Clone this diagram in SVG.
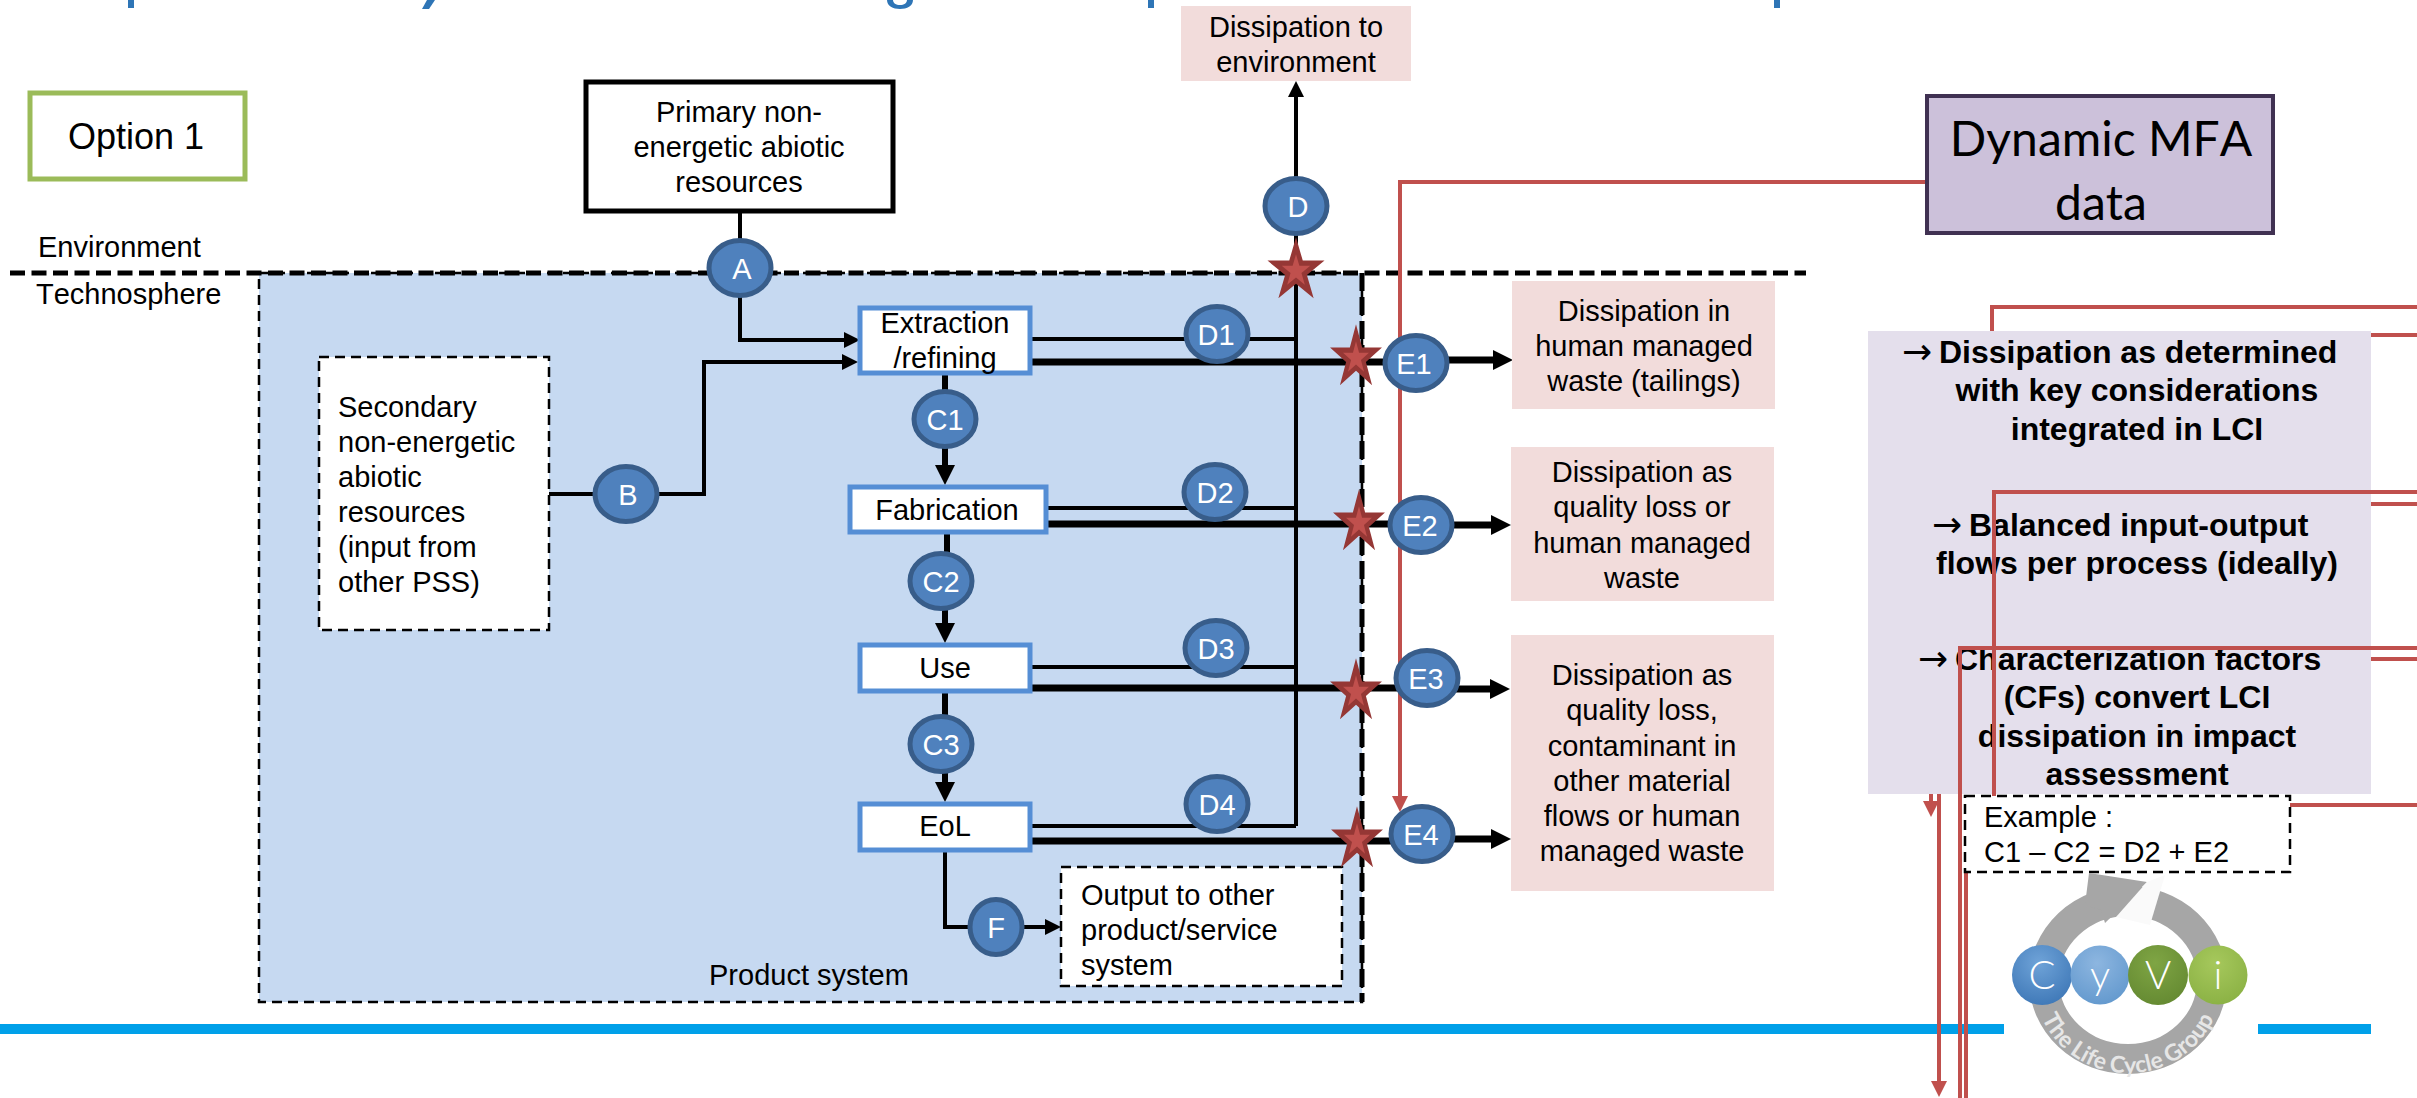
<svg xmlns="http://www.w3.org/2000/svg" width="2417" height="1098" viewBox="0 0 2417 1098">
<defs>
<style>
text{font-family:"Liberation Sans",Arial,sans-serif;font-size:29px;fill:#000;font-kerning:none}
.m{text-anchor:middle}
.n{fill:#4F81BD;stroke:#385D8A;stroke-width:5}
.nt{fill:#fff;text-anchor:middle}
.dash{fill:#fff;stroke:#000;stroke-width:2.5;stroke-dasharray:10 6}
.proc{fill:#fff;stroke:#558ED5;stroke-width:5}
.pink{fill:#F2DCDB}
.thin{fill:none;stroke:#000;stroke-width:4}
.thick{fill:none;stroke:#000;stroke-width:7}
.mid{fill:none;stroke:#000;stroke-width:6}
.red{fill:none;stroke:#C0504D;stroke-width:4}
.b{font-weight:bold;font-size:32px}
.arr{font-family:"DejaVu Sans",sans-serif;font-size:36px}
.lg{font-family:Lato,sans-serif;font-weight:300;font-size:40px;fill:#fff;text-anchor:middle}
.mfa{font-family:Lato,sans-serif;font-size:48px;text-anchor:middle}
</style>
<marker id="ah" markerUnits="userSpaceOnUse" markerWidth="16" markerHeight="16" refX="8" refY="8" orient="auto"><path d="M0 0L16 8L0 16Z" fill="#000"/></marker>
<marker id="aL" markerUnits="userSpaceOnUse" markerWidth="20" markerHeight="20" refX="10" refY="10" orient="auto"><path d="M0 0L20 10L0 20Z" fill="#000"/></marker>
<marker id="ar" markerUnits="userSpaceOnUse" markerWidth="16" markerHeight="16" refX="8" refY="8" orient="auto"><path d="M0 0L16 8L0 16Z" fill="#C0504D"/></marker>
<g id="star">
<polygon points="0,-1 .225,-.309 .951,-.309 .363,.118 .588,.809 0,.382 -.588,.809 -.363,.118 -.951,-.309 -.225,-.309" fill="#953735"/>
<polygon points="0,-.5 .112,-.155 .476,-.155 .182,.059 .294,.405 0,.191 -.294,.405 -.182,.059 -.476,-.155 -.112,-.155" fill="#C0504D"/>
</g>
<radialGradient id="gc" cx=".45" cy=".3" r=".8"><stop offset="0" stop-color="#6FA3D8"/><stop offset="1" stop-color="#3A74B4"/></radialGradient>
<radialGradient id="gy" cx=".45" cy=".3" r=".8"><stop offset="0" stop-color="#8DB6E0"/><stop offset="1" stop-color="#5F96CC"/></radialGradient>
<radialGradient id="gv" cx=".45" cy=".3" r=".8"><stop offset="0" stop-color="#7FA544"/><stop offset="1" stop-color="#628730"/></radialGradient>
<radialGradient id="gi" cx=".45" cy=".3" r=".8"><stop offset="0" stop-color="#A6C85C"/><stop offset="1" stop-color="#88AF42"/></radialGradient>
<path id="arc" d="M2036 1000A94 92 0 0 0 2220 1000"/>
</defs>
<rect width="2417" height="1098" fill="#fff"/>

<g id="title-fragments" fill="#2E75B6">
<rect x="128" y="0" width="6" height="8"/>
<path d="M427 0h8l-6 9h-7z"/>
<path d="M887 0c0 6 6 9 13 9s13-3 13-9h-6c0 3-3 5-7 5s-7-2-7-5z"/>
<rect x="1148" y="0" width="6" height="8"/>
<rect x="1774" y="0" width="6" height="8"/>
</g>

<rect id="footer-bar-left" x="0" y="1024" width="2004" height="10" fill="#00A0E9"/>
<rect id="footer-bar-right" x="2258" y="1024" width="113" height="10" fill="#00A0E9"/>

<g id="product-system">
<rect x="259" y="273" width="1103" height="729" fill="#C6D9F1" stroke="#000" stroke-width="2.5" stroke-dasharray="10 6"/>
<text x="709" y="985">Product system</text>
</g>
<path id="product-right-edge" d="M1362 273V1002" fill="none" stroke="#000" stroke-width="5" stroke-dasharray="18 6"/>
<path id="boundary" d="M10 273H1806" fill="none" stroke="#000" stroke-width="5" stroke-dasharray="15 6.5"/>
<g id="boundary-labels">
<text x="38" y="257">Environment</text>
<text x="36" y="304">Technosphere</text>
</g>

<g id="red-connectors-back">
<path class="red" d="M1926 182H1400V804" marker-end="url(#ar)"/>
<path class="red" d="M2417 307H1992V340"/>
<path class="red" d="M2417 335H2360"/>
<path class="red" d="M2417 504H2360"/>
<path class="red" d="M2417 659H2360"/>
<path class="red" d="M1931 780V809" marker-end="url(#ar)"/>
<path class="red" d="M1939 780V1089" marker-end="url(#ar)"/>
</g>

<g id="connectors">
<path class="thin" d="M740 213V340H852" marker-end="url(#ah)"/>
<path class="thin" d="M549 494H704V362H850" marker-end="url(#ah)"/>
<path class="mid" d="M945 374V475" marker-end="url(#aL)"/>
<path class="mid" d="M947 533V581"/>
<path class="mid" d="M945 581V633" marker-end="url(#aL)"/>
<path class="mid" d="M945 692V792" marker-end="url(#aL)"/>
<path class="thin" d="M945 851V927H1053" marker-end="url(#ah)"/>
<path class="thin" d="M1296 826V89" marker-end="url(#ah)"/>
<path class="thin" d="M1030 339H1296M1046 508H1296M1030 667H1296M1030 826H1296"/>
<path class="thick" d="M1030 362H1416"/>
<path class="thick" d="M1046 524H1421"/>
<path class="thick" d="M1030 688H1427"/>
<path class="thick" d="M1030 841H1422"/>
<path class="thick" d="M1416 360H1503" marker-end="url(#aL)"/>
<path class="thick" d="M1421 525H1501" marker-end="url(#aL)"/>
<path class="thick" d="M1427 689H1500" marker-end="url(#aL)"/>
<path class="thick" d="M1422 839H1501" marker-end="url(#aL)"/>
</g>

<g id="option-1"><rect x="30" y="93" width="215" height="86" fill="#fff" stroke="#9BBB59" stroke-width="5"/><text class="m" x="136" y="149" style="font-size:36px">Option 1</text></g>
<g id="primary"><rect x="586" y="82" width="307" height="129" fill="#fff" stroke="#000" stroke-width="5"/>
<text class="m" x="739" y="122">Primary non-</text><text class="m" x="739" y="157">energetic abiotic</text><text class="m" x="739" y="192">resources</text></g>
<g id="secondary"><rect class="dash" x="319" y="357" width="230" height="273"/>
<text x="338" y="417">Secondary</text><text x="338" y="452">non-energetic</text><text x="338" y="487">abiotic</text><text x="338" y="522">resources</text><text x="338" y="557">(input from</text><text x="338" y="592">other PSS)</text></g>
<g id="extraction"><rect class="proc" x="860" y="308" width="170" height="65"/><text class="m" x="945" y="333">Extraction</text><text class="m" x="945" y="368">/refining</text></g>
<g id="fabrication"><rect class="proc" x="850" y="487" width="196" height="45"/><text class="m" x="947" y="520">Fabrication</text></g>
<g id="use"><rect class="proc" x="860" y="645" width="170" height="46"/><text class="m" x="945" y="678">Use</text></g>
<g id="eol"><rect class="proc" x="860" y="804" width="170" height="46"/><text class="m" x="945" y="836">EoL</text></g>
<g id="output"><rect class="dash" x="1061" y="867" width="281" height="119"/>
<text x="1081" y="905">Output to other</text><text x="1081" y="940">product/service</text><text x="1081" y="975">system</text></g>
<g id="diss-env"><rect class="pink" x="1181" y="6" width="230" height="75"/><text class="m" x="1296" y="37">Dissipation to</text><text class="m" x="1296" y="72">environment</text></g>
<g id="diss-e1"><rect class="pink" x="1512" y="281" width="263" height="128"/><text class="m" x="1644" y="321">Dissipation in</text><text class="m" x="1644" y="356">human managed</text><text class="m" x="1644" y="391">waste (tailings)</text></g>
<g id="diss-e2"><rect class="pink" x="1511" y="447" width="263" height="154"/><text class="m" x="1642" y="482">Dissipation as</text><text class="m" x="1642" y="517">quality loss or</text><text class="m" x="1642" y="553">human managed</text><text class="m" x="1642" y="588">waste</text></g>
<g id="diss-e3"><rect class="pink" x="1511" y="635" width="263" height="256"/><text class="m" x="1642" y="685">Dissipation as</text><text class="m" x="1642" y="720">quality loss,</text><text class="m" x="1642" y="756">contaminant in</text><text class="m" x="1642" y="791">other material</text><text class="m" x="1642" y="826">flows or human</text><text class="m" x="1642" y="861">managed waste</text></g>

<g id="stars">
<use href="#star" transform="translate(1296 271) scale(30 33.7)"/>
<use href="#star" transform="translate(1356 358) scale(27.3 33.7)"/>
<use href="#star" transform="translate(1359 523) scale(27.3 33.7)"/>
<use href="#star" transform="translate(1356 692) scale(27.3 33.7)"/>
<use href="#star" transform="translate(1357 840) scale(27.3 33.7)"/>
</g>

<g id="node-A"><ellipse class="n" cx="740" cy="268" rx="31" ry="27.5"/><text class="nt" x="742" y="279">A</text></g>
<g id="node-B"><ellipse class="n" cx="626" cy="494" rx="31" ry="27.5"/><text class="nt" x="628" y="505">B</text></g>
<g id="node-C1"><ellipse class="n" cx="945" cy="419" rx="31" ry="27.5"/><text class="nt" x="945" y="430">C1</text></g>
<g id="node-C2"><ellipse class="n" cx="941" cy="581" rx="31" ry="27.5"/><text class="nt" x="941" y="592">C2</text></g>
<g id="node-C3"><ellipse class="n" cx="941" cy="744" rx="31" ry="27.5"/><text class="nt" x="941" y="755">C3</text></g>
<g id="node-D"><ellipse class="n" cx="1296" cy="206" rx="31" ry="27.5"/><text class="nt" x="1298" y="217">D</text></g>
<g id="node-D1"><ellipse class="n" cx="1217" cy="334" rx="31" ry="27.5"/><text class="nt" x="1216" y="345">D1</text></g>
<g id="node-D2"><ellipse class="n" cx="1215" cy="492" rx="31" ry="27.5"/><text class="nt" x="1215" y="503">D2</text></g>
<g id="node-D3"><ellipse class="n" cx="1216" cy="648" rx="31" ry="27.5"/><text class="nt" x="1216" y="659">D3</text></g>
<g id="node-D4"><ellipse class="n" cx="1217" cy="804" rx="31" ry="27.5"/><text class="nt" x="1217" y="815">D4</text></g>
<g id="node-E1"><ellipse class="n" cx="1416" cy="363" rx="31" ry="27.5"/><text class="nt" x="1414" y="374">E1</text></g>
<g id="node-E2"><ellipse class="n" cx="1421" cy="525" rx="31" ry="27.5"/><text class="nt" x="1420" y="536">E2</text></g>
<g id="node-E3"><ellipse class="n" cx="1427" cy="678" rx="31" ry="27.5"/><text class="nt" x="1426" y="689">E3</text></g>
<g id="node-E4"><ellipse class="n" cx="1422" cy="834" rx="31" ry="27.5"/><text class="nt" x="1421" y="845">E4</text></g>
<g id="node-F"><ellipse class="n" cx="996" cy="927" rx="26" ry="27.5"/><text class="nt" x="996" y="938">F</text></g>

<g id="mfa"><rect x="1927" y="96" width="346" height="137" fill="#CCC1DA" stroke="#403152" stroke-width="4"/><text class="mfa" x="2101" y="156">Dynamic MFA</text><text class="mfa" x="2101" y="220">data</text></g>

<g id="notes"><rect x="1868" y="331" width="503" height="463" fill="#E4DFEC"/>
<text class="arr" x="1902" y="364">→</text><text class="b" x="1939" y="363">Dissipation as determined</text>
<text class="b m" x="2137" y="401">with key considerations</text>
<text class="b m" x="2137" y="440">integrated in LCI</text>
<text class="arr" x="1932" y="537">→</text><text class="b" x="1969" y="536">Balanced input-output</text>
<text class="b m" x="2137" y="574">flows per process (ideally)</text>
<text class="arr" x="1918" y="671">→</text><text class="b" x="1955" y="670">Characterization factors</text>
<text class="b m" x="2137" y="708">(CFs) convert LCI</text>
<text class="b m" x="2137" y="747">dissipation in impact</text>
<text class="b m" x="2137" y="785">assessment</text></g>

<g id="red-connectors-front">
<path class="red" d="M2417 492H1994V800"/>
<path class="red" d="M2417 648H1960V1098"/>
<path class="red" d="M1966 870V1098"/>
<path class="red" d="M2417 805H2288"/>
</g>

<g id="example"><rect class="dash" x="1965" y="796" width="325" height="76"/><text x="1984" y="827">Example :</text><text x="1984" y="862">C1 – C2 = D2 + E2</text></g>

<g id="logo">
<ellipse cx="2128" cy="980" rx="84" ry="79" fill="none" stroke="#A6A6A6" stroke-width="30"/>
<path d="M2089 873L2147 882L2105 923L2101 910L2085 905Z" fill="#A6A6A6"/>
<path d="M2147 882L2165 875L2150 925L2116 917Z" fill="#FAFAFA"/>
<circle cx="2042" cy="975" r="30" fill="url(#gc)"/><circle cx="2100" cy="975" r="29.5" fill="url(#gy)"/><circle cx="2158" cy="975" r="30" fill="url(#gv)"/><circle cx="2218" cy="975" r="29.5" fill="url(#gi)"/>
<text class="lg" x="2042" y="989">C</text><text class="lg" x="2100" y="989">y</text><text class="lg" x="2158" y="989">V</text><text class="lg" x="2218" y="989">i</text>
<text style="font-family:Lato,sans-serif;font-size:23px;font-weight:bold;fill:#E6E6E6"><textPath href="#arc" startOffset="50%" text-anchor="middle">The Life Cycle Group</textPath></text>
</g>
</svg>
